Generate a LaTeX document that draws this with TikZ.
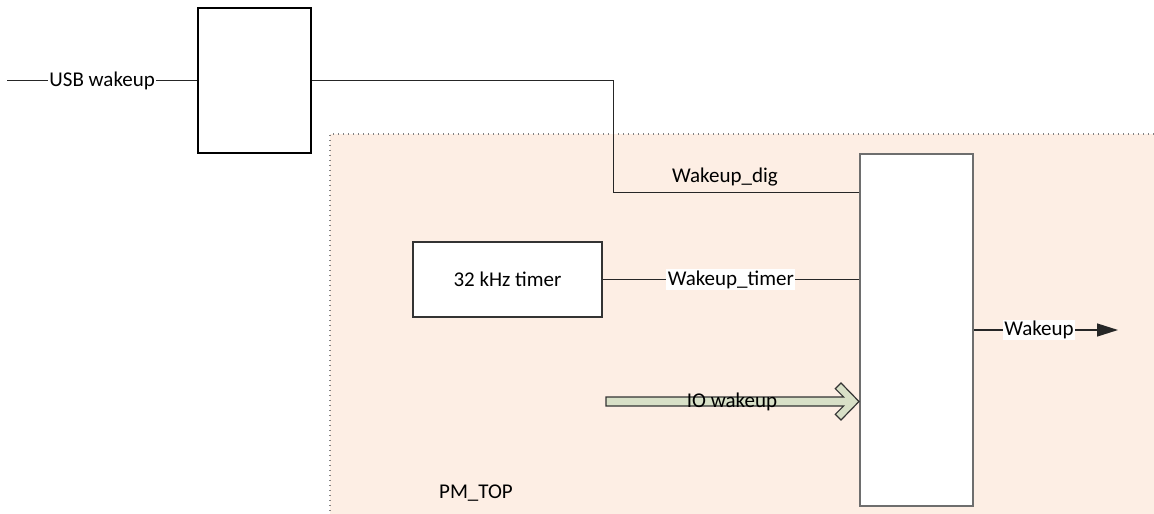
\documentclass[tikz,border=0pt]{standalone}
\usepackage{fontspec}
\setmainfont{Carlito}
\usetikzlibrary{arrows.meta}
\definecolor{peach}{RGB}{253,238,228}
\definecolor{boxgray}{RGB}{110,110,110}
\definecolor{iogreen}{RGB}{216,224,199}
\definecolor{dotgray}{RGB}{130,130,130}
\begin{document}
\begin{tikzpicture}[x=1pt,y=-1pt,
  every node/.style={font=\fontsize{21}{25}\selectfont},
  blk/.style={draw=black,line width=1.4pt,fill=white,inner sep=0pt},
  bigblk/.style={draw=boxgray,line width=2pt,fill=white,inner sep=0pt},
  wire/.style={draw=black!85,line width=1.4pt},
  lbl/.style={fill=white,inner sep=1.5pt},
  plain/.style={inner sep=0pt}]
\useasboundingbox (0,0) rectangle (1154,514);
% PM_TOP region
\fill[peach] (330,134) rectangle (1154,514);
\draw[dotgray,line width=1.2pt,dash pattern=on 1.2pt off 3.8pt] (1154,134) -- (330,134) -- (330,514);
% blocks
\node[blk,minimum width=113pt,minimum height=145pt] (usbbox) at (254.5,80.5) {};
\node[bigblk,minimum width=113pt,minimum height=352pt] (big) at (916.5,330) {};
\node[blk,draw=black!80,minimum width=189pt,minimum height=75pt] (timer) at (507.5,279.5) {32 kHz timer};
% USB wakeup input
\coordinate (usbin) at (7,80.5);
\draw[wire] (usbin) -- (usbbox.west) node[midway,lbl] (usblbl) {USB wakeup};
% Wakeup_dig
\coordinate (digturn) at (613.5,192.5);
\draw[wire] (usbbox.east) -| (digturn) -- (digturn -| big.west);
\node[plain] (diglbl) at (725,177) {Wakeup\_dig};
% Wakeup_timer
\draw[wire] (timer.east) -- (timer.east -| big.west) node[midway,lbl] (timerlbl) {Wakeup\_timer};
% Wakeup output
\coordinate (wout) at (1118,330);
\draw[wire,-{Triangle[length=21pt,width=13pt]}] (big.east) -- (wout);
\node[lbl] (woutlbl) at (1039,330) {Wakeup};
% IO wakeup block arrow
\coordinate (iotip) at (big.west |- 0,401.5);
\filldraw[fill=iogreen,draw=black!80,line width=1.2pt,line join=miter]
  (606,397) -- (843.6,397) -- (835.3,388.7) -- (841,383) -- (iotip)
  -- (841,420) -- (835.3,414.3) -- (843.6,406) -- (606,406) -- cycle;
\node[plain] (iolbl) at (732,402) {IO wakeup};
% PM_TOP label
\node[plain] (pmlbl) at (476,493) {PM\_TOP};
\end{tikzpicture}
\end{document}
